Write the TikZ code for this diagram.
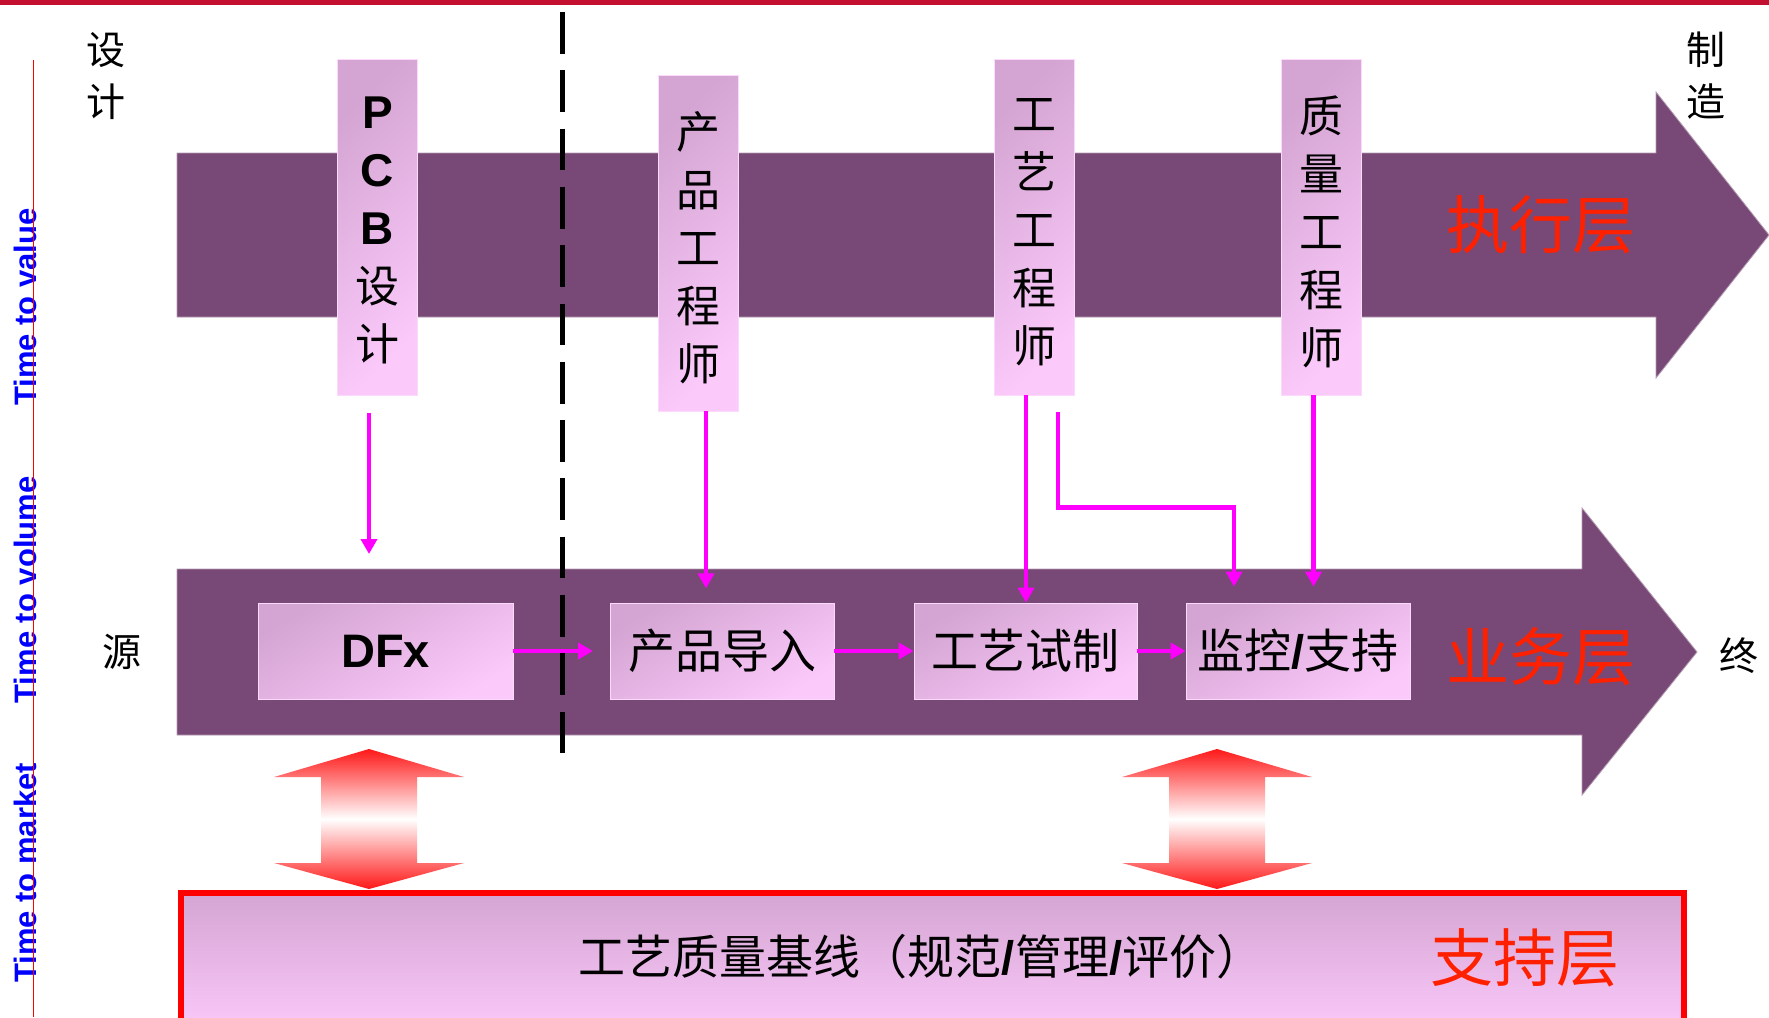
\documentclass[tikz,border=0pt]{standalone}
\usepackage{fontspec}
\setmainfont{Liberation Sans}
\newfontfamily\cjk{Noto Sans CJK SC}
\usetikzlibrary{arrows.meta,calc}
\definecolor{bandpurple}{RGB}{120,73,118}
\definecolor{boxA}{RGB}{212,164,210}
\definecolor{boxB}{RGB}{251,202,251}
\definecolor{mag}{RGB}{255,0,255}
\definecolor{redtxt}{RGB}{255,32,0}
\definecolor{toprule}{RGB}{196,16,48}
\definecolor{tblue}{RGB}{0,0,255}
\definecolor{dred}{RGB}{255,24,24}
\begin{document}
\begin{tikzpicture}[x=1pt,y=1pt,
  vbox/.style={inner sep=0pt, minimum width=80pt, minimum height=336pt, top color=boxA, bottom color=boxB, shading angle=45, draw=boxB!70!white, line width=0.8pt},
  hbox/.style={inner sep=0pt, minimum width=224pt, minimum height=96pt, top color=boxA, bottom color=boxB, shading angle=30, draw=boxB!70!white, line width=0.8pt, font=\fontsize{47}{56}\selectfont\cjk, text=black},
  vtext/.style={align=center, inner sep=0pt, font=\fontsize{44}{58}\selectfont\cjk, text=black},
  htext/.style={inner sep=0pt, font=\fontsize{47}{56}\selectfont\cjk, text=black},
  layer/.style={inner sep=0pt, font=\fontsize{63}{70}\selectfont\cjk, text=redtxt},
  side/.style={inner sep=0pt, font=\fontsize{39}{52}\selectfont\cjk, text=black, align=center},
  ttext/.style={font=\fontsize{31}{36}\selectfont\bfseries, text=tblue, rotate=90, anchor=base, inner sep=0pt},
  flow/.style={draw=mag, line width=4.6pt, -{Triangle[width=16pt,length=15pt]}},
  band/.style={fill=bandpurple, draw=bandpurple!55!white, line width=0.8pt},
  dbl/.style={top color=dred, bottom color=dred, middle color=white}
]
\useasboundingbox (0,0) rectangle (1769,-1017);
\clip (0,0) rectangle (1769,-1017);
\fill[white] (0,0) rectangle (1769,-1017);
% top rule
\fill[toprule] (0,0) rectangle (1769,-5);
% big arrows
\path[band] (177,-153) -- (1656,-153) -- (1656,-92) -- (1769,-235) -- (1656,-378) -- (1656,-317) -- (177,-317) -- cycle;
\path[band] (177,-569) -- (1582,-569) -- (1582,-508) -- (1697,-652) -- (1582,-795) -- (1582,-735) -- (177,-735) -- cycle;
% dashed divider
\coordinate (dtop) at (562,-12);
\coordinate (dbot) at (562,-759);
\draw[black, line width=5pt, dash pattern=on 41.7pt off 16.6pt] (dtop) -- (dbot);
% vertical role boxes
\node[vbox] (pcb) at (377.5,-227) {};
\node[vbox] (pe) at (698,-243) {};
\node[vbox] (ce) at (1034,-227) {};
\node[vbox] (qe) at (1321.5,-227) {};
\node[vtext] (pcbt) at (377.5,-230) {{\fontsize{46}{58}\selectfont\rmfamily\bfseries P}\\{\fontsize{46}{58}\selectfont\rmfamily\bfseries C}\\{\fontsize{46}{58}\selectfont\rmfamily\bfseries B}\\设\\计};
\node[vtext] (pet) at (698,-248) {产\\品\\工\\程\\师};
\node[vtext] (cet) at (1034,-232) {工\\艺\\工\\程\\师};
\node[vtext] (qet) at (1321.5,-232) {质\\量\\工\\程\\师};
% process boxes
\node[hbox, minimum width=255pt, font=\fontsize{47}{56}\selectfont\bfseries] (dfx) at (385.5,-651) {DFx};
\node[hbox] (intro) at (722,-651) {产品导入};
\node[hbox, minimum width=223pt] (trial) at (1025.5,-651) {工艺试制};
\node[hbox] (mon) at (1298,-651) {监控{\rmfamily\bfseries /}支持};
% connectors
\coordinate (pcbend) at (369,-554);
\draw[flow] ([xshift=-8.5pt,yshift=-18pt]pcb.south) -- (pcbend);
\draw[flow] ([xshift=8pt]pe.south) -- ++(0,-177);
\draw[flow] ([xshift=-8pt]ce.south) -- ([xshift=-8pt]ce.south |- trial.north);
\draw[flow] ([xshift=24pt,yshift=-17pt]ce.south) -- ++(0,-95) -| ([xshift=-64pt,yshift=16pt]mon.north);
\draw[flow] ([xshift=-8pt]qe.south) -- ($([xshift=-8pt]qe.south |- mon.north)+(0,16)$);
\coordinate (dfxend) at (593,-651);
\draw[flow] (dfx.east) -- (dfxend);
\draw[flow] (intro.east) -- (trial.west);
\draw[flow] (trial.east) -- (mon.west);
% double arrows
\shade[dbl] (369,-749) -- (464,-777) -- (417,-777) -- (417,-863) -- (464,-863) -- (369,-889) -- (274,-863) -- (321,-863) -- (321,-777) -- (274,-777) -- cycle;
\shade[dbl] (1217,-749) -- (1312,-777) -- (1265,-777) -- (1265,-863) -- (1312,-863) -- (1217,-889) -- (1122,-863) -- (1169,-863) -- (1169,-777) -- (1122,-777) -- cycle;
% support box
\node[draw=red, line width=6pt, top color=boxA, bottom color=boxB, minimum width=1503pt, minimum height=140pt, inner sep=0pt, anchor=north west] (supp) at (178,-890) {};
\node[htext] (suppt) at (921,-957) {工艺质量基线（规范{\rmfamily\bfseries /}管理{\rmfamily\bfseries /}评价）};
% layer labels
\node[layer] (exec) at (1541,-225) {执行层};
\node[layer] (biz) at (1541,-657) {业务层};
\node[layer] (sup) at (1525,-958) {支持层};
% side labels
\node[side] (sheji) at (106,-76) {设\\计};
\node[side] (zhizao) at (1706,-76) {制\\造};
\node[side] (yuan) at (122,-652) {源};
\node[side] (zhong) at (1739,-656) {终};
% time labels
\node[ttext] (tvalue) at (36,-307) {Time to value};
\node[ttext] (tvolume) at (36,-590) {Time to volume};
\node[ttext] (tmarket) at (36,-873) {Time to market};
\coordinate (rtop) at (33.7,-60);
\coordinate (rbot) at (33.7,-1017);
\draw[red, line width=1.5pt] (rtop) -- (rbot);
\end{tikzpicture}
\end{document}
